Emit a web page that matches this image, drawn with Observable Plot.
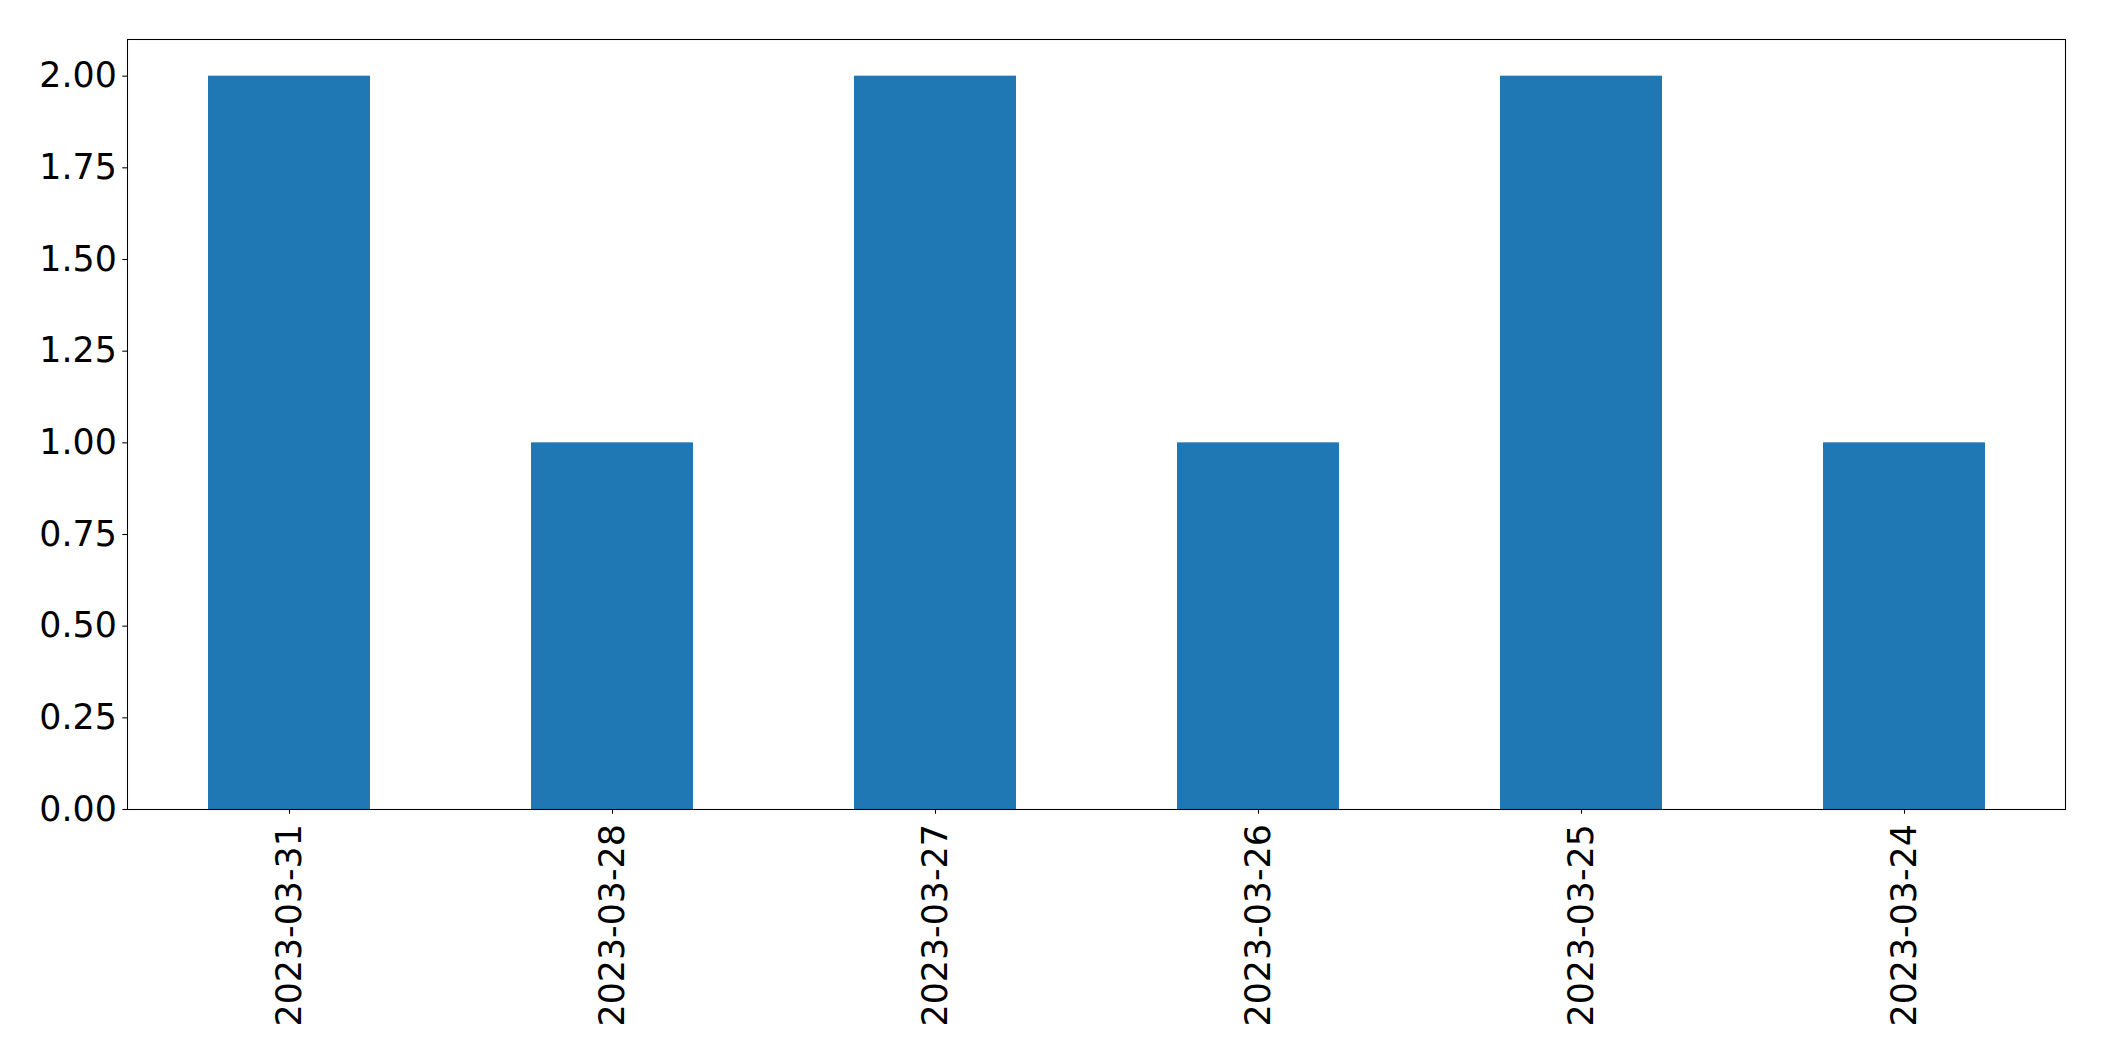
<!DOCTYPE html>
<html>
<head>
<meta charset="utf-8">
<script src="https://cdn.jsdelivr.net/npm/d3@7"></script>
<script src="https://cdn.jsdelivr.net/npm/@observablehq/plot@0.6"></script>
<style>
  html, body { margin: 0; padding: 0; background: #fff; }
  svg { display: block; }
</style>
</head>
<body>
<div id="chart"></div>
<script>
const dates = ["2023-03-31", "2023-03-28", "2023-03-27", "2023-03-26", "2023-03-25", "2023-03-24"];
const counts = [2, 1, 2, 1, 2, 1];
const yTicks = [0, 0.25, 0.5, 0.75, 1.0, 1.25, 1.5, 1.75, 2.0];

const data = dates.map((d, i) => ({date: d, count: counts[i]}));

const chart = Plot.plot({
  width: 2104,
  height: 1061,
  marginLeft: 127,
  marginRight: 39,
  marginTop: 39,
  marginBottom: 252,
  style: {fontFamily: "DejaVu Sans", fontSize: "34.8px", color: "#000", background: "#fff"},
  x: {domain: dates, paddingInner: 0.5, paddingOuter: 0.25, align: 0.5},
  y: {domain: [0, 2.1]},
  marks: [
    Plot.barY(data, {x: "date", y: "count", fill: "#1f77b4"}),
    Plot.axisY({ticks: yTicks, tickFormat: d3.format(".2f"), tickSize: 4.7, tickPadding: 6, label: null, fontSize: 34.8, stroke: "#000", strokeWidth: 1.07}),
    Plot.axisX({tickSize: 4.7, tickPadding: 10, tickRotate: -90, label: null, fontSize: 34.8, stroke: "#000", strokeWidth: 1.07}),
    Plot.frame({stroke: "#000", strokeWidth: 1.07})
  ]
});
document.getElementById("chart").appendChild(chart);
</script>
</body>
</html>
